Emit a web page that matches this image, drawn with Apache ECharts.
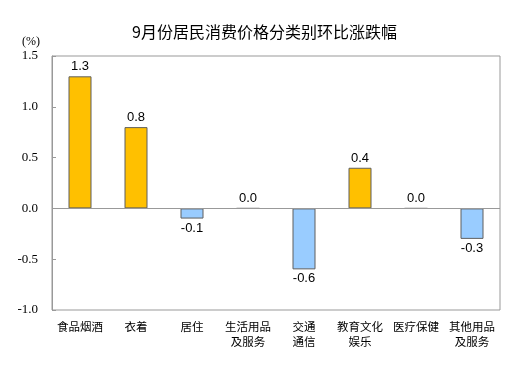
<!DOCTYPE html>
<html><head><meta charset="utf-8">
<script src="https://cdn.jsdelivr.net/npm/echarts@6/dist/echarts.min.js"></script>
<style>html,body{margin:0;padding:0;background:#fff}#c{width:529px;height:378px}</style>
</head><body><div id="c"></div>
<script>
var categories = ['食品烟酒','衣着','居住','生活用品\n及服务','交通\n通信','教育文化\n娱乐','医疗保健','其他用品\n及服务'];
var values = [1.3, 0.8, -0.1, 0.0, -0.6, 0.4, 0.0, -0.3];
var yTicks = [-1.0, -0.5, 0.0, 0.5, 1.0, 1.5];
var titleText = '9月份居民消费价格分类别环比涨跌幅';
var unitText = '(%)';

var serif = "'Liberation Serif', 'Times New Roman', serif";
var posColor = '#FFC000', negColor = '#99CCFF';
var data = values.map(function (v) {
  return {
    value: v,
    itemStyle: { color: v >= 0 ? posColor : negColor, borderColor: '#5f5f5f', borderWidth: 1 },
    label: { position: v < 0 ? 'bottom' : 'top' }
  };
});

var chart = echarts.init(document.getElementById('c'), null, { renderer: 'canvas' });
chart.setOption({
  animation: false,
  backgroundColor: '#fff',
  title: {
    text: titleText, left: 'center', top: 19,
    textStyle: { fontFamily: 'Noto Sans CJK SC', fontSize: 16, fontWeight: 'normal', color: '#000' }
  },
  graphic: [{
    type: 'text', left: 22, top: 36,
    style: { text: unitText, font: "12px 'Liberation Serif', 'Times New Roman', serif", fill: '#000' }
  }],
  grid: { left: 52, right: 29, top: 56, bottom: 68, show: true, borderColor: '#999', borderWidth: 1 },
  xAxis: {
    type: 'category', data: categories,
    axisLine: { show: false, onZero: false },
    axisTick: { show: false },
    axisLabel: {
      interval: 0, margin: 9, color: '#000', fontFamily: 'Noto Sans CJK SC', fontSize: 11.5, lineHeight: 15
    }
  },
  yAxis: {
    type: 'value', min: yTicks[0], max: yTicks[yTicks.length - 1], interval: 0.5,
    axisLine: { show: true, lineStyle: { color: '#999' } },
    axisTick: { show: true, inside: true, length: 4, lineStyle: { color: '#999' } },
    splitLine: { show: false },
    axisLabel: {
      margin: 14, color: '#000', fontFamily: serif, fontSize: 13,
      formatter: function (v) { return v.toFixed(1); }
    }
  },
  series: [{
    type: 'bar', data: data, barWidth: 23,
    label: {
      show: true, distance: 3, color: '#000', fontFamily: 'Liberation Sans', fontSize: 13,
      formatter: function (p) { return p.value.toFixed(1); }
    },
    markLine: {
      silent: true, symbol: 'none', label: { show: false },
      lineStyle: { color: '#999', type: 'solid', width: 1 },
      data: [{ yAxis: 0 }]
    }
  }]
});
</script>
</body></html>
